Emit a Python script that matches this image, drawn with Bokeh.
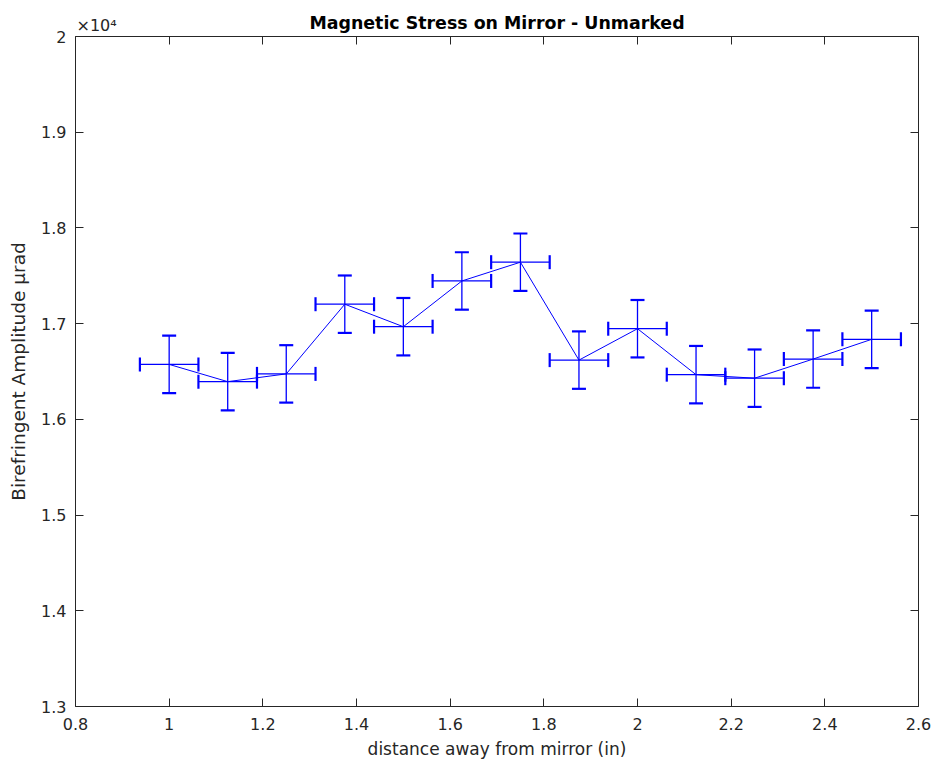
from bokeh.plotting import figure
from bokeh.models import (ColumnDataSource, Whisker, TeeHead, LinearAxis, FixedTicker,
                          CustomJSTickFormatter, Range1d)
from bokeh.embed import file_html
from bokeh.resources import INLINE

# ---- data (amplitude in µrad, axis shown in units of 1e4) ----
distance = [1.0, 1.125, 1.25, 1.375, 1.5, 1.625, 1.75, 1.875, 2.0, 2.125, 2.25, 2.375, 2.5]
amplitude = [16574, 16394, 16475, 17203, 16968, 17446, 17642, 16619, 16947, 16467, 16430, 16630, 16836]
amp_err = [300, 300, 300, 300, 300, 300, 300, 300, 300, 300, 300, 300, 300]
dist_err = [0.0625] * 13

x_ticks = [0.8, 1.0, 1.2, 1.4, 1.6, 1.8, 2.0, 2.2, 2.4, 2.6]
y_ticks = [13000, 14000, 15000, 16000, 17000, 18000, 19000, 20000]

title_text = "Magnetic Stress on Mirror - Unmarked"
x_label = "distance away from mirror (in)"
y_label = "Birefringent Amplitude μrad"
exponent_text = "×10⁴"

FONT = "DejaVu Sans"
TXT = "#262626"
BLUE = "#0000FF"

src = ColumnDataSource(dict(
    x=distance, y=amplitude,
    ylo=[a - e for a, e in zip(amplitude, amp_err)],
    yhi=[a + e for a, e in zip(amplitude, amp_err)],
    xlo=[d - e for d, e in zip(distance, dist_err)],
    xhi=[d + e for d, e in zip(distance, dist_err)],
))

p = figure(width=933, height=767, output_backend="svg", toolbar_location=None,
           x_range=Range1d(0.8, 2.6), y_range=Range1d(13000, 20000),
           min_border_left=75, min_border_right=15, min_border_top=36, min_border_bottom=61)
p.background_fill_color = "white"
p.border_fill_color = "white"
p.outline_line_color = None
p.xgrid.visible = False
p.ygrid.visible = False

p.title.text = title_text
p.title.align = "center"
p.title.offset = 8
p.title.text_font = FONT
p.title.text_font_size = "17.4px"
p.title.text_font_style = "bold"
p.title.text_color = "black"
p.title.standoff = 7

xfmt = CustomJSTickFormatter(code="return String(Math.round(tick*10)/10);")
yfmt = CustomJSTickFormatter(code="return String(Math.round(tick/1000)/10);")
blankfmt = CustomJSTickFormatter(code="return '';")
expfmt = CustomJSTickFormatter(args=dict(txt=exponent_text + "\n\u00a0", top=max(y_ticks)),
                               code="return tick == top ? txt : '';")


def style_axis(ax):
    ax.axis_line_color = TXT
    ax.axis_line_width = 1
    ax.major_tick_line_color = TXT
    ax.major_tick_in = 8
    ax.major_tick_out = 0
    ax.minor_tick_line_color = None
    ax.major_label_text_font = FONT
    ax.major_label_text_color = TXT
    ax.major_label_text_font_size = "16px"


xa = p.xaxis[0]
xa.ticker = FixedTicker(ticks=x_ticks)
xa.formatter = xfmt
style_axis(xa)
xa.major_label_standoff = 11
xa.axis_label = x_label
xa.axis_label_text_font = FONT
xa.axis_label_text_font_size = "17px"
xa.axis_label_text_font_style = "normal"
xa.axis_label_text_color = TXT
xa.axis_label_standoff = 6

ya = p.yaxis[0]
ya.ticker = FixedTicker(ticks=y_ticks)
ya.formatter = yfmt
style_axis(ya)
ya.major_label_standoff = 9
ya.axis_label = y_label
ya.axis_label_text_font = FONT
ya.axis_label_text_font_size = "18.5px"
ya.axis_label_text_font_style = "normal"
ya.axis_label_text_color = TXT
ya.axis_label_standoff = 9

top = LinearAxis(ticker=FixedTicker(ticks=x_ticks), formatter=blankfmt)
style_axis(top)
top.major_label_standoff = 0
p.add_layout(top, "above")

# right axis: tick marks, plus the ×10^4 exponent drawn at the top-left corner
right = LinearAxis(ticker=FixedTicker(ticks=y_ticks), formatter=expfmt)
style_axis(right)
right.major_label_standoff = -842
p.add_layout(right, "right")

# connecting line
p.line("x", "y", source=src, line_color=BLUE, line_width=1)

# error bars
vw = Whisker(base="x", lower="ylo", upper="yhi", dimension="height", source=src,
             line_color=BLUE, line_width=1.3,
             lower_head=TeeHead(size=14, line_color=BLUE, line_width=2.2),
             upper_head=TeeHead(size=14, line_color=BLUE, line_width=2.2))
hw = Whisker(base="y", lower="xlo", upper="xhi", dimension="width", source=src,
             line_color=BLUE, line_width=1.3,
             lower_head=TeeHead(size=14, line_color=BLUE, line_width=2.2),
             upper_head=TeeHead(size=14, line_color=BLUE, line_width=2.2))
p.add_layout(vw)
p.add_layout(hw)

open("out.html", "w").write(file_html(p, INLINE))
